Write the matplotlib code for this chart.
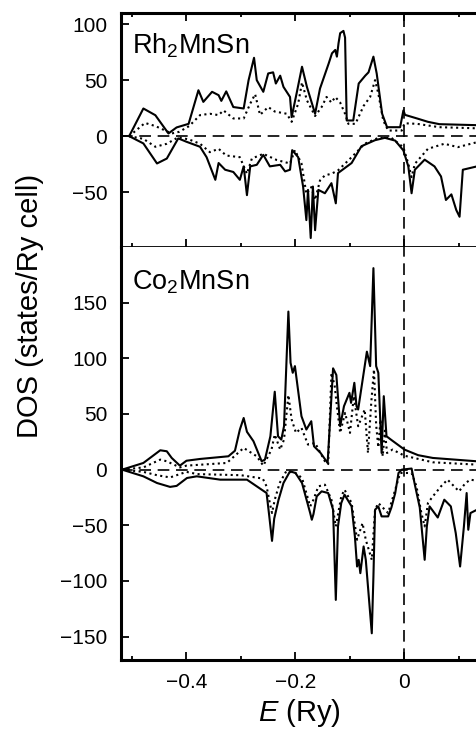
import matplotlib
matplotlib.use("Agg")
import matplotlib.pyplot as plt

plt.rcParams['font.family'] = ['Liberation Sans', 'DejaVu Sans']
plt.rcParams['mathtext.fontset'] = 'custom'
plt.rcParams['mathtext.rm'] = 'Liberation Sans'
plt.rcParams['mathtext.it'] = 'Liberation Sans:italic'

# ---- Rh2MnSn (upper panel) ----
rh_up_E = [-0.505, -0.479, -0.457, -0.433, -0.418, -0.396, -0.378, -0.369, -0.353, -0.341,
           -0.336, -0.327, -0.314, -0.295, -0.286, -0.276, -0.271, -0.259, -0.250, -0.241,
           -0.236, -0.228, -0.222, -0.210, -0.207, -0.198, -0.188, -0.179, -0.164, -0.155,
           -0.139, -0.133, -0.127, -0.124, -0.121, -0.118, -0.112, -0.109, -0.106, -0.094,
           -0.084, -0.072, -0.066, -0.057, -0.051, -0.041, -0.032, -0.008, -0.002, 0.001,
           0.023, 0.043, 0.064, 0.133]
rh_up_tot = [0, 24.7, 18.7, 2.4, 7.8, 11, 41, 30.6, 39.6, 36.6,
             31.5, 40, 26, 24.7, 50, 70, 50, 39.6, 56, 57,
             47, 54, 44, 35, 17, 38, 62, 44, 20, 42.5,
             65, 74, 77, 71, 83, 92, 94, 88, 14, 14,
             47, 54, 57, 71, 56, 20, 8, 8, 23, 19,
             15.8, 12.8, 10.7, 9.8]

rh_up_dot_E = [-0.505, -0.476, -0.457, -0.427, -0.413, -0.395, -0.375, -0.357, -0.341, -0.332,
               -0.314, -0.295, -0.283, -0.274, -0.265, -0.250, -0.238, -0.216, -0.207, -0.195,
               -0.188, -0.179, -0.164, -0.152, -0.143, -0.134, -0.127, -0.118, -0.109, -0.103,
               -0.090, -0.075, -0.063, -0.054, -0.048, -0.039, -0.030, -0.005, 0.0, 0.023,
               0.064, 0.133]
rh_up_part = [0, 11.8, 9, 2.4, 3.9, 9, 18.8, 20, 18.8, 23,
              15.8, 15.8, 29, 37.5, 19, 26, 22, 20, 12.8, 29,
              48, 32, 18, 26, 35, 30, 35, 30, 20, 11,
              11, 27, 35, 50, 38, 14, 5, 5, 11.5, 11,
              8, 7]

rh_dn_E = [-0.505, -0.479, -0.454, -0.436, -0.415, -0.400, -0.375, -0.363, -0.347, -0.341,
           -0.329, -0.314, -0.302, -0.295, -0.289, -0.283, -0.271, -0.259, -0.247, -0.228,
           -0.219, -0.210, -0.206, -0.195, -0.186, -0.180, -0.177, -0.172, -0.168, -0.164,
           -0.158, -0.146, -0.134, -0.126, -0.122, -0.097, -0.079, -0.054, -0.036, -0.017,
           -0.002, 0.007, 0.013, 0.019, 0.037, 0.055, 0.067, 0.076, 0.086, 0.095,
           0.101, 0.107, 0.133]
rh_dn_tot = [0, -6.5, -24.4, -20, -2, -5, -9.5, -18.8, -39, -24,
             -30, -32, -39, -27, -52.7, -27, -25.6, -16.7, -27, -25.6,
             -31.5, -30, -12.5, -18.8, -45, -75, -48, -91, -45, -84,
             -48, -51, -42, -60, -33, -24, -9, -3.6, -1.5, -4,
             -12.8, -27, -51, -30, -21, -27, -36, -57, -52, -66,
             -72, -30, -27]

rh_dn_dot_E = [-0.505, -0.479, -0.457, -0.436, -0.415, -0.395, -0.375, -0.357, -0.341, -0.327,
               -0.302, -0.289, -0.280, -0.259, -0.234, -0.210, -0.201, -0.189, -0.180, -0.171,
               -0.164, -0.155, -0.146, -0.134, -0.122, -0.097, -0.073, -0.048, -0.024, -0.002,
               0.007, 0.013, 0.019, 0.043, 0.073, 0.098, 0.133]
rh_dn_part = [0, -2.4, -9.5, -6.8, -1, -3, -6.8, -14.3, -11.3, -17.3,
              -18.8, -33.6, -20, -15.8, -21.4, -24.4, -12.5, -24.4, -51.5, -45.5,
              -57, -39.6, -35, -33.6, -30.6, -18.8, -6.8, -1.5, -1.5, -10,
              -24.7, -36.6, -24.7, -11.3, -6.8, -9.8, -5.4]

# ---- Co2MnSn (lower panel) ----
co_up_E = [-0.518, -0.479, -0.448, -0.436, -0.427, -0.412, -0.400, -0.375, -0.323, -0.311,
           -0.302, -0.295, -0.289, -0.277, -0.262, -0.256, -0.246, -0.238, -0.232, -0.226,
           -0.221, -0.213, -0.209, -0.205, -0.201, -0.197, -0.189, -0.180, -0.171, -0.166,
           -0.154, -0.141, -0.131, -0.125, -0.118, -0.111, -0.101, -0.098, -0.092, -0.088,
           -0.085, -0.069, -0.063, -0.057, -0.052, -0.048, -0.042, -0.038, -0.033, -0.025,
           0.0, 0.025, 0.052, 0.133]
co_up_tot = [0, 6, 17.4, 16.5, 10.5, 3.6, 8, 9.6, 12, 17,
             36, 46.4, 34, 25.5, 7.5, 9, 30, 70, 30, 27,
             39, 142, 96, 87, 93, 78, 48, 36, 43.5, 21,
             15, 6, 91, 85, 39, 57, 69, 60, 78, 57,
             54, 106, 93, 181, 93, 87, 15, 66, 30, 27,
             18, 13, 10.5, 7.5]

co_up_dot_E = [-0.518, -0.479, -0.448, -0.436, -0.412, -0.400, -0.326, -0.295, -0.271, -0.259,
               -0.244, -0.238, -0.228, -0.221, -0.213, -0.207, -0.199, -0.189, -0.177, -0.164,
               -0.146, -0.140, -0.134, -0.128, -0.124, -0.118, -0.109, -0.100, -0.093, -0.085,
               -0.073, -0.067, -0.061, -0.056, -0.052, -0.048, -0.044, -0.040, -0.036, -0.032,
               -0.022, 0.0, 0.052, 0.133]
co_up_part = [0, 2, 9, 7.5, 2, 3.6, 6, 19.5, 12, 3.6,
              18, 31.5, 18, 27, 67, 45, 33, 37.5, 22.5, 24,
              7.5, 5, 87, 75, 57, 33, 51, 33, 66, 39,
              54, 15, 60, 90, 40, 20, 45, 12, 35, 15,
              18, 12.5, 6.6, 4.5]

co_dn_E = [-0.518, -0.479, -0.454, -0.430, -0.418, -0.399, -0.381, -0.338, -0.289, -0.253,
           -0.248, -0.243, -0.239, -0.231, -0.222, -0.210, -0.200, -0.188, -0.173, -0.170,
           -0.167, -0.161, -0.152, -0.140, -0.131, -0.126, -0.122, -0.116, -0.110, -0.097,
           -0.091, -0.087, -0.084, -0.081, -0.075, -0.071, -0.060, -0.057, -0.054, -0.048,
           -0.042, -0.030, -0.024, -0.017, -0.011, -0.005, 0.013, 0.019, 0.028, 0.037,
           0.041, 0.046, 0.055, 0.061, 0.073, 0.085, 0.094, 0.102, 0.109, 0.114,
           0.117, 0.121, 0.133]
co_dn_tot = [0, -6, -12, -15.5, -14.6, -7.5, -6, -9, -9, -21,
             -42, -64, -44, -27, -12, -1.5, -3, -12, -39, -45,
             -40, -24, -19.5, -21, -36, -117, -51, -30, -22.5, -33,
             -60, -87, -81, -93, -69, -81, -147, -96, -36, -33,
             -42, -42, -34, -21, -3, 0, 1, -13.5, -34, -81,
             -51, -33, -39, -43, -27, -33, -57, -87, -51, -21,
             -54, -39, -36]

co_dn_dot_E = [-0.518, -0.479, -0.454, -0.430, -0.400, -0.380, -0.300, -0.260, -0.253, -0.247,
               -0.243, -0.238, -0.229, -0.217, -0.200, -0.188, -0.173, -0.167, -0.158, -0.146,
               -0.134, -0.126, -0.116, -0.110, -0.097, -0.087, -0.081, -0.077, -0.071, -0.060,
               -0.054, -0.048, -0.030, -0.017, -0.008, 0.013, 0.022, 0.031, 0.037, 0.043,
               0.052, 0.067, 0.079, 0.091, 0.100, 0.112, 0.121, 0.133]
co_dn_part = [0, -2, -5, -7, -2, -4, -5, -8, -15, -30,
              -39, -27, -12, -1.5, -3, -7.5, -33, -27, -15, -13.5,
              -27, -51, -24, -18, -30, -63, -54, -48, -63, -81,
              -36, -30, -39, -18, -3, -3, -15, -39, -51, -30,
              -24, -15, -9, -15, -19.5, -12, -9, -10]

compounds = ['Rh$\\mathregular{_2}$MnSn', 'Co$\\mathregular{_2}$MnSn']
ylims = [(-99, 110), (-171, 200)]
yticks = [[-50, 0, 50, 100], [-150, -100, -50, 0, 50, 100, 150]]
xticks = [-0.4, -0.2, 0]
xticklabels = ['\u22120.4', '\u22120.2', '0']


def style_axis(ax, ylim, ticks):
    ax.set_xlim(-0.52, 0.133)
    ax.set_ylim(*ylim)
    ax.set_yticks(ticks)
    ax.set_xticks(xticks)
    ax.set_xticklabels(xticklabels)
    ax.set_xticks([-0.5, -0.3, -0.1, 0.1], minor=True)
    ax.tick_params(which='both', direction='in', labelsize=15, width=1.3)
    ax.tick_params(which='major', length=6)
    ax.tick_params(which='minor', length=3)
    ax.tick_params(axis='y', pad=10)
    ax.tick_params(axis='x', pad=9)
    ax.spines['right'].set_visible(False)
    ax.axhline(0, color='k', lw=1.2, dashes=(7, 4))
    ax.axvline(0, color='k', lw=1.2, dashes=(7, 4))


fig = plt.figure(figsize=(4.77, 7.34), dpi=100)
ax1 = fig.add_axes([0.2537, 0.6635, 0.7463, 0.3188])
ax2 = fig.add_axes([0.2537, 0.1008, 0.7463, 0.5627])

lw = 1.5
ax1.plot(rh_up_E, rh_up_tot, color='k', lw=lw)
ax1.plot(rh_up_dot_E, rh_up_part, color='k', lw=lw, ls=':')
ax1.plot(rh_dn_E, rh_dn_tot, color='k', lw=lw)
ax1.plot(rh_dn_dot_E, rh_dn_part, color='k', lw=lw, ls=':')

ax2.plot(co_up_E, co_up_tot, color='k', lw=lw)
ax2.plot(co_up_dot_E, co_up_part, color='k', lw=lw, ls=':')
ax2.plot(co_dn_E, co_dn_tot, color='k', lw=lw)
ax2.plot(co_dn_dot_E, co_dn_part, color='k', lw=lw, ls=':')

for ax, lim, tk in zip([ax1, ax2], ylims, yticks):
    style_axis(ax, lim, tk)

ax1.tick_params(axis='x', which='both', top=True, labelbottom=False)
ax1.spines['top'].set_linewidth(2.2)
ax1.spines['left'].set_linewidth(2.2)
ax1.spines['bottom'].set_linewidth(1.3)
ax2.spines['top'].set_visible(False)
ax2.spines['left'].set_linewidth(2.2)
ax2.spines['bottom'].set_linewidth(2.2)

ax1.text(0.03, 0.829, compounds[0], transform=ax1.transAxes, fontsize=19.5, va='baseline')
ax2.text(0.03, 0.8976, compounds[1], transform=ax2.transAxes, fontsize=19.5, va='baseline')

ax2.set_xlabel('$E$ (Ry)', fontsize=21, labelpad=4)
fig.text(0.062, 0.583, 'DOS (states/Ry cell)', rotation=90, fontsize=21,
         ha='center', va='center')

fig.savefig('out.png', dpi=100)
